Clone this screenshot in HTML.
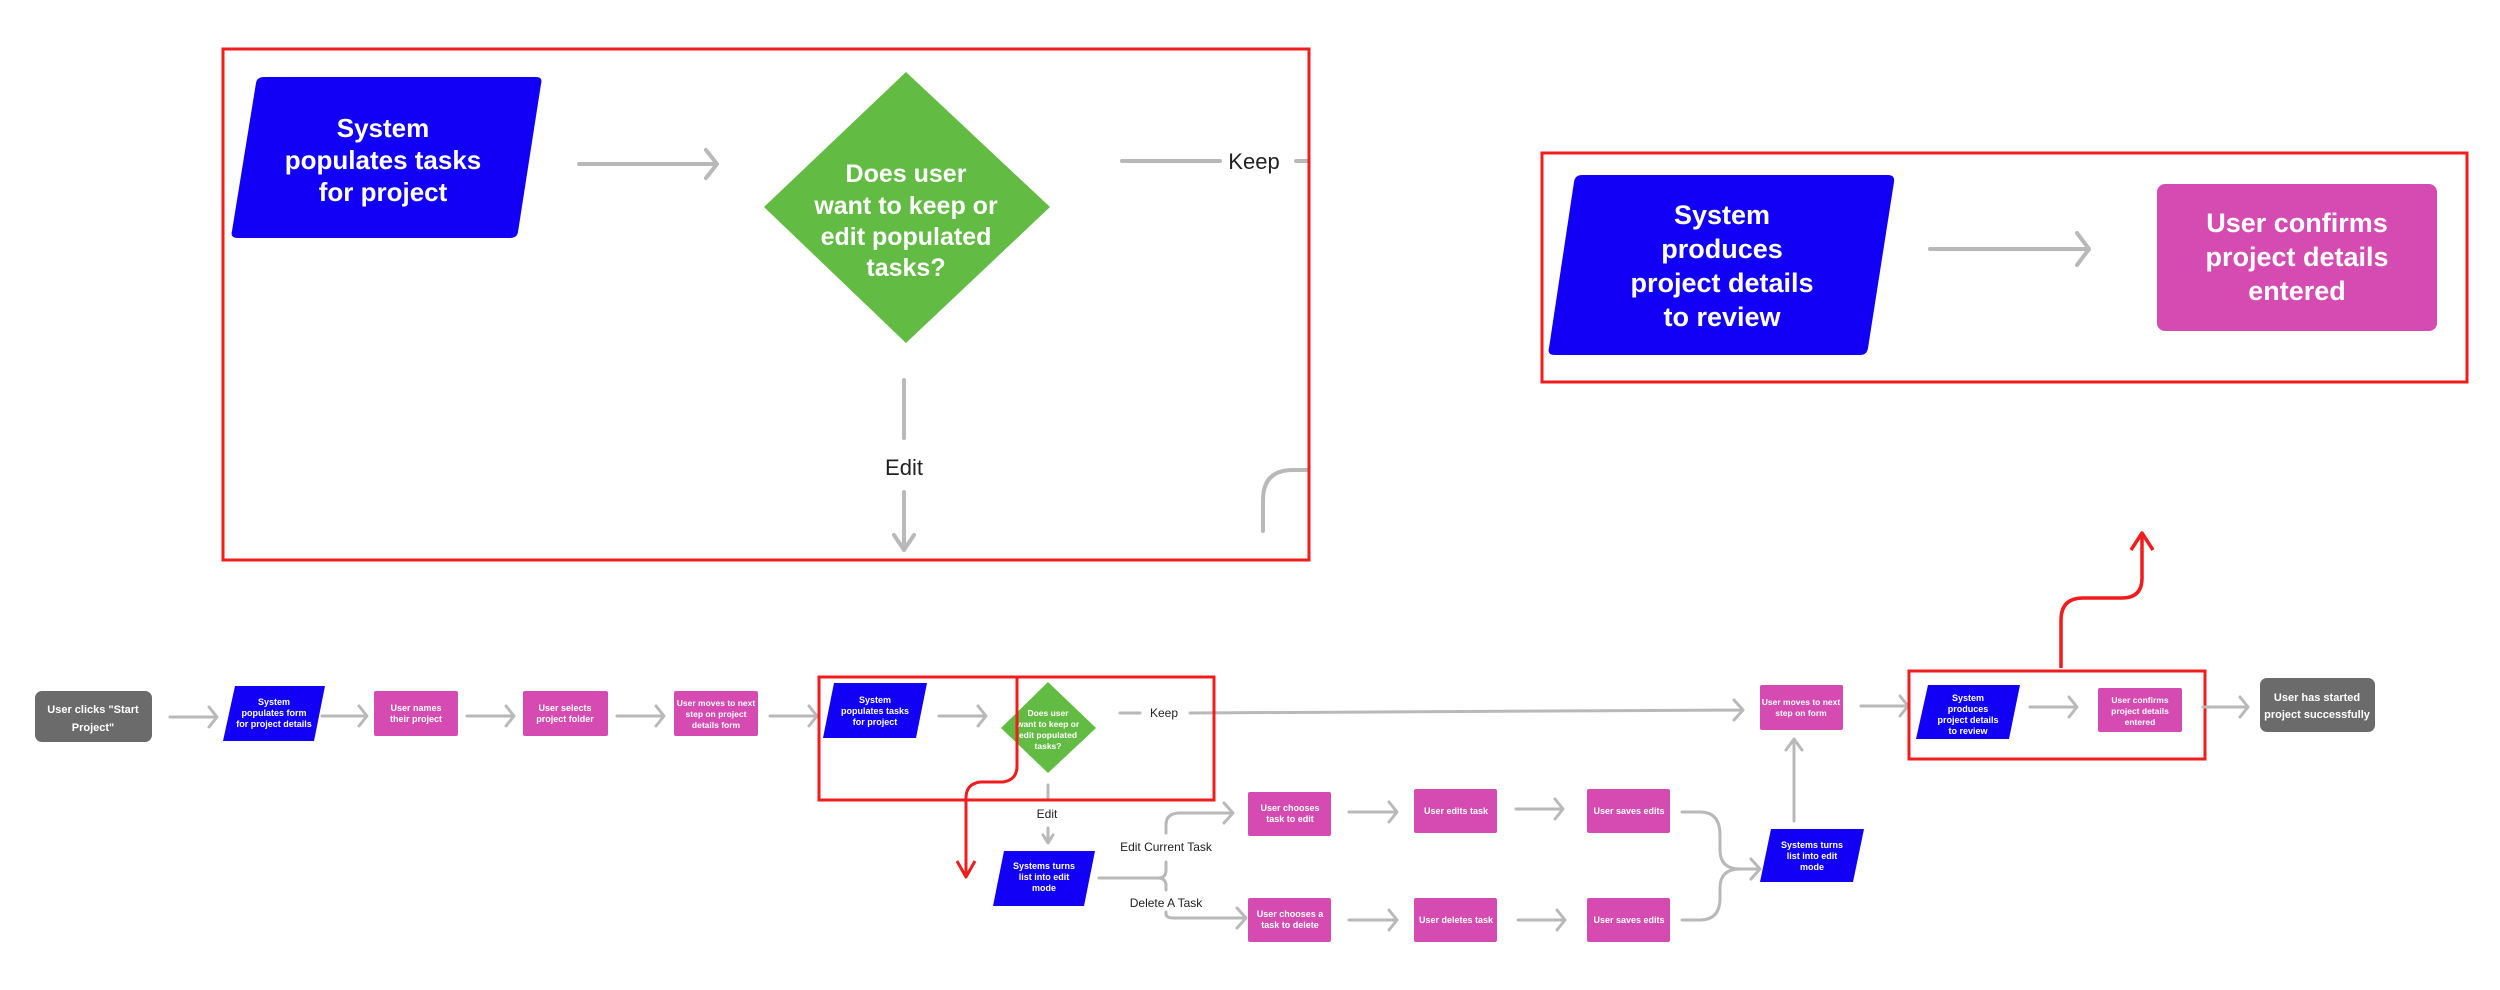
<!DOCTYPE html>
<html><head><meta charset="utf-8"><style>
html,body{margin:0;padding:0;background:#fff;}
svg{display:block;}
text{font-family:"Liberation Sans",sans-serif;}
.w{fill:#fff;font-weight:bold;text-anchor:middle;}
.l{fill:#222;text-anchor:middle;}
.c{fill:none;stroke:#b9b9b9;stroke-width:3;stroke-linecap:round;stroke-linejoin:round;}
.cb{fill:none;stroke:#b9b9b9;stroke-width:4;stroke-linecap:round;stroke-linejoin:round;}
.r{fill:none;stroke:#f21c1c;stroke-width:3;}
</style></head><body>
<svg width="2500" height="990" viewBox="0 0 2500 990" xmlns="http://www.w3.org/2000/svg">
<defs><clipPath id="cb1"><rect x="222" y="48" width="1088" height="513"/></clipPath></defs>

<g clip-path="url(#cb1)">
<path d="M274 77 H536 Q543 77 541 84 L518 232 Q517 238 510 238 H238 Q230 238 232 231 L256 83 Q257 77 264 77 Z" fill="#1100f5"/>
<text class="w" font-size="26"><tspan x="383" y="137">System</tspan><tspan x="383" y="169">populates tasks</tspan><tspan x="383" y="201">for project</tspan></text>
<path class="cb" d="M579 164 H716 M706 150 L717 164 L706 178"/>
<polygon points="906,72 1050,207 906,343 764,207" fill="#62bb43"/>
<text class="w" font-size="25"><tspan x="906" y="182">Does user</tspan><tspan x="906" y="214">want to keep or</tspan><tspan x="906" y="245">edit populated</tspan><tspan x="906" y="276">tasks?</tspan></text>
<path class="cb" d="M1122 161 H1220 M1296 161 H1312"/>
<text class="l" font-size="22" x="1254" y="169">Keep</text>
<path class="cb" d="M904 380 V438 M904 492 V550 M894 535 L904 550 L914 535"/>
<text class="l" font-size="22" x="904" y="475">Edit</text>
<path class="cb" d="M1263 531 V500 Q1263 470 1293 470 H1312"/>
<text class="l" font-size="22" x="1262" y="576">Edit Current Task</text>
</g>
<rect class="r" x="223" y="49" width="1086" height="511"/>

<rect class="r" x="1542" y="153" width="925" height="229"/>
<path d="M1597 175 H1888 Q1895 175 1894 182 L1868 348 Q1867 355 1860 355 H1555 Q1547 355 1549 348 L1574 182 Q1575 175 1582 175 Z" fill="#1100f5"/>
<text class="w" font-size="27"><tspan x="1722" y="224">System</tspan><tspan x="1722" y="258">produces</tspan><tspan x="1722" y="292">project details</tspan><tspan x="1722" y="326">to review</tspan></text>
<path class="cb" d="M1930 249 H2088 M2077 233 L2089 249 L2077 265"/>
<rect x="2157" y="184" width="280" height="147" rx="8" fill="#d54bb2"/>
<text class="w" font-size="27"><tspan x="2297" y="232">User confirms</tspan><tspan x="2297" y="266">project details</tspan><tspan x="2297" y="300">entered</tspan></text>

<path d="M2061 668 V620 Q2061 598 2083 598 H2122 Q2142 598 2142 578 V533 M2131 550 L2142 533 L2153 550" fill="none" stroke="#f21c1c" stroke-width="3.5" stroke-linejoin="round"/>

<rect x="35" y="691" width="117" height="51" rx="7" fill="#6b6b6b"/>
<text class="w" font-size="11" font-weight="normal"><tspan x="93" y="713">User clicks "Start</tspan><tspan x="93" y="731">Project"</tspan></text>
<path class="c" d="M170 717 H216 M209 707 L217 717 L209 727"/>

<path d="M235 686 H325 L314 741 H223 Z" fill="#1100f5"/>
<text class="w" font-size="9"><tspan x="274" y="705">System</tspan><tspan x="274" y="716">populates form</tspan><tspan x="274" y="727">for project details</tspan></text>
<path class="c" d="M322 716 H366 M359 706 L367 716 L359 726"/>

<rect x="374" y="691" width="84" height="45" rx="2" fill="#d54bb2"/>
<text class="w" font-size="9"><tspan x="416" y="711">User names</tspan><tspan x="416" y="722">their project</tspan></text>
<path class="c" d="M467 716 H513 M506 706 L514 716 L506 726"/>

<rect x="523" y="691" width="85" height="45" rx="2" fill="#d54bb2"/>
<text class="w" font-size="9"><tspan x="565" y="711">User selects</tspan><tspan x="565" y="722">project folder</tspan></text>
<path class="c" d="M617 716 H663 M656 706 L664 716 L656 726"/>

<rect x="674" y="691" width="84" height="45" rx="2" fill="#d54bb2"/>
<text class="w" font-size="8.5"><tspan x="716" y="706">User moves to next</tspan><tspan x="716" y="717">step on project</tspan><tspan x="716" y="728">details form</tspan></text>
<path class="c" d="M770 716 H816 M809 706 L817 716 L809 726"/>

<path d="M834 683 H927 L916 738 H823 Z" fill="#1100f5"/>
<text class="w" font-size="9"><tspan x="875" y="703">System</tspan><tspan x="875" y="714">populates tasks</tspan><tspan x="875" y="725">for project</tspan></text>
<path class="c" d="M939 716 H985 M978 706 L986 716 L978 726"/>

<polygon points="1048,682 1096,728 1048,773 1001,728" fill="#62bb43"/>
<text class="w" font-size="8.5"><tspan x="1048" y="716">Does user</tspan><tspan x="1048" y="727">want to keep or</tspan><tspan x="1048" y="738">edit populated</tspan><tspan x="1048" y="749">tasks?</tspan></text>

<path class="c" d="M1120 713 H1140 M1190 713 L1742 710 M1734 700 L1743 710 L1734 720"/>
<text class="l" font-size="12" x="1164" y="717">Keep</text>
<path class="c" d="M1048 785 V798 M1048 828 V842 M1043 835 L1048 843 L1053 835"/>
<text class="l" font-size="12" x="1047" y="818">Edit</text>

<rect class="r" x="819" y="677" width="395" height="123" stroke-width="2"/>
<path d="M1017 677 V766 Q1017 780 1003 782 L980 782 Q966 784 966 798 V877 M957 861 L966 877 L975 861" fill="none" stroke="#f21c1c" stroke-width="3" stroke-linejoin="round"/>

<path d="M1004 851 H1095 L1084 906 H993 Z" fill="#1100f5"/>
<text class="w" font-size="9"><tspan x="1044" y="869">Systems turns</tspan><tspan x="1044" y="880">list into edit</tspan><tspan x="1044" y="891">mode</tspan></text>
<path class="c" d="M1099 878 H1158 Q1166 878 1166 870 V862 M1166 833 V825 Q1166 813 1180 813 H1232 M1224 803 L1233 813 L1224 823"/>
<path class="c" d="M1158 878 Q1166 878 1166 886 V890 M1166 912 V914 Q1166 918 1174 918 H1245 M1237 908 L1246 918 L1237 928"/>
<text class="l" font-size="12" x="1166" y="851">Edit Current Task</text>
<text class="l" font-size="12" x="1166" y="907">Delete A Task</text>

<rect x="1248" y="792" width="83" height="44" rx="2" fill="#d54bb2"/>
<text class="w" font-size="9"><tspan x="1290" y="811">User chooses</tspan><tspan x="1290" y="822">task to edit</tspan></text>
<path class="c" d="M1349 812 H1396 M1389 802 L1397 812 L1389 822"/>
<rect x="1414" y="789" width="83" height="44" rx="2" fill="#d54bb2"/>
<text class="w" font-size="9" x="1456" y="814">User edits task</text>
<path class="c" d="M1516 809 H1562 M1555 799 L1563 809 L1555 819"/>
<rect x="1587" y="789" width="83" height="44" rx="2" fill="#d54bb2"/>
<text class="w" font-size="9" x="1629" y="814">User saves edits</text>

<rect x="1248" y="898" width="83" height="44" rx="2" fill="#d54bb2"/>
<text class="w" font-size="9"><tspan x="1290" y="917">User chooses a</tspan><tspan x="1290" y="928">task to delete</tspan></text>
<path class="c" d="M1349 920 H1396 M1389 910 L1397 920 L1389 930"/>
<rect x="1414" y="898" width="83" height="44" rx="2" fill="#d54bb2"/>
<text class="w" font-size="9" x="1456" y="923">User deletes task</text>
<path class="c" d="M1518 920 H1564 M1557 910 L1565 920 L1557 930"/>
<rect x="1587" y="898" width="83" height="44" rx="2" fill="#d54bb2"/>
<text class="w" font-size="9" x="1629" y="923">User saves edits</text>

<path class="c" d="M1682 812 H1700 Q1720 812 1720 835 V850 Q1720 869 1740 869 H1759 M1751 859 L1760 869 L1751 879"/>
<path class="c" d="M1682 920 H1700 Q1720 920 1720 898 V888 Q1720 869 1740 869"/>

<path d="M1771 829 H1864 L1853 882 H1760 Z" fill="#1100f5"/>
<text class="w" font-size="9"><tspan x="1812" y="848">Systems turns</tspan><tspan x="1812" y="859">list into edit</tspan><tspan x="1812" y="870">mode</tspan></text>
<path class="c" d="M1794 821 V740 M1786 750 L1794 739 L1802 750"/>

<rect x="1760" y="685" width="83" height="45" rx="2" fill="#d54bb2"/>
<text class="w" font-size="8.5"><tspan x="1801" y="705">User moves to next</tspan><tspan x="1801" y="716">step on form</tspan></text>
<path class="c" d="M1861 706 H1907 M1900 696 L1908 706 L1900 716"/>

<rect class="r" x="1909" y="671" width="296" height="88" stroke-width="2"/>
<path d="M1928 685 H2020 L2009 739 H1916 Z" fill="#1100f5"/>
<text class="w" font-size="9"><tspan x="1968" y="701">System</tspan><tspan x="1968" y="712">produces</tspan><tspan x="1968" y="723">project details</tspan><tspan x="1968" y="734">to review</tspan></text>
<path class="c" d="M2030 707 H2076 M2069 697 L2077 707 L2069 717"/>
<rect x="2098" y="688" width="84" height="44" rx="2" fill="#d54bb2"/>
<text class="w" font-size="8.5"><tspan x="2140" y="703">User confirms</tspan><tspan x="2140" y="714">project details</tspan><tspan x="2140" y="725">entered</tspan></text>
<path class="c" d="M2203 707 H2247 M2240 697 L2248 707 L2240 717"/>
<rect x="2260" y="678" width="115" height="54" rx="7" fill="#6b6b6b"/>
<text class="w" font-size="11" font-weight="normal"><tspan x="2317" y="701">User has started</tspan><tspan x="2317" y="718">project successfully</tspan></text>
</svg>
</body></html>
